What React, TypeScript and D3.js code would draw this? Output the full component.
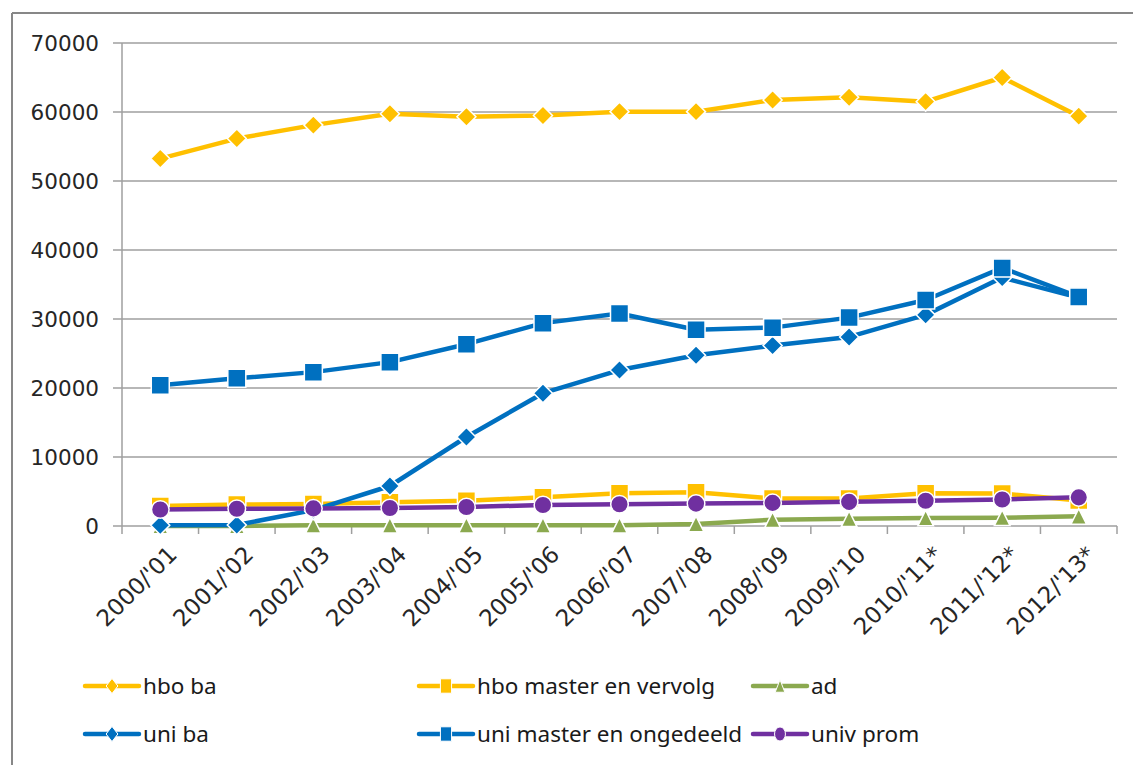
import React from "react";
import * as d3 from "d3";

const categories = ["2000/'01", "2001/'02", "2002/'03", "2003/'04", "2004/'05", "2005/'06", "2006/'07", "2007/'08", "2008/'09", "2009/'10", "2010/'11*", "2011/'12*", "2012/'13*"];

const hboBa = [53250, 56150, 58100, 59750, 59300, 59500, 60050, 60050, 61750, 62150, 61500, 65000, 59400];
const hboMaster = [2900, 3100, 3200, 3450, 3650, 4150, 4750, 4900, 4000, 4000, 4750, 4700, 3700];
const ad = [0, 0, 100, 100, 100, 100, 100, 300, 900, 1050, 1150, 1200, 1400];
const uniBa = [100, 150, 2300, 5800, 12900, 19250, 22600, 24750, 26150, 27400, 30600, 36000, 33100];
const uniMaster = [20400, 21400, 22300, 23750, 26350, 29400, 30800, 28450, 28750, 30200, 32750, 37400, 33200];
const univProm = [2400, 2500, 2550, 2600, 2750, 3050, 3150, 3250, 3350, 3500, 3650, 3850, 4150];

const yTickValues = [0, 10000, 20000, 30000, 40000, 50000, 60000, 70000];

const seriesNames = ["hbo ba", "hbo master en vervolg", "ad", "uni ba", "uni master en ongedeeld", "univ prom"];
const seriesValues = [hboBa, hboMaster, ad, uniBa, uniMaster, univProm];
const seriesColors = ["#FFC000", "#FFC000", "#8BA94F", "#0070C0", "#0070C0", "#7030A0"];
const seriesShapes = ["diamond", "square", "triangle", "diamond", "square", "circle"];

const W = 1133;
const H = 765;
const LEFT = 122;
const RIGHT = 1117;
const TOP = 43;
const BOTTOM = 526;

const x = d3.scaleBand<string>().domain(categories).range([LEFT, RIGHT]);
const y = d3.scaleLinear().domain([0, 70000]).range([BOTTOM, TOP]);
const cx = (c: string) => (x(c) as number) + x.bandwidth() / 2;

function markerPath(shape: string, sx = 1, sy = 1): string {
  if (shape === "diamond") {
    const r = 9.5;
    return `M0,${-r * sy}L${r * sx},0L0,${r * sy}L${-r * sx},0Z`;
  }
  if (shape === "square") {
    const h = 9;
    return `M${-h * sx},${-h * sy}L${h * sx},${-h * sy}L${h * sx},${h * sy}L${-h * sx},${h * sy}Z`;
  }
  if (shape === "triangle") {
    const h = 7.8;
    return `M0,${-h * sy}L${h * sx},${h * sy}L${-h * sx},${h * sy}Z`;
  }
  const r = 8.8;
  return `M${-r * sx},0A${r * sx},${r * sy} 0 1,0 ${r * sx},0A${r * sx},${r * sy} 0 1,0 ${-r * sx},0Z`;
}

const lineGen = d3
  .line<number>()
  .x((_, i) => cx(categories[i]))
  .y((v) => y(v));

const legendCols = [85, 419, 753];
const legendRows = [686, 734];

export default function App() {
  const boundaries = categories.map((c) => x(c) as number).concat([RIGHT]);
  return (
    <svg width={W} height={H} style={{ position: "absolute", left: 0, top: 0, background: "#fff" }}>
      <rect x={0} y={0} width={W} height={H} fill="#fff" />
      {/* frame */}
      <line x1={12} y1={13} x2={W} y2={13} stroke="#878787" strokeWidth={2} />
      <line x1={12} y1={13} x2={12} y2={H} stroke="#878787" strokeWidth={2} />

      {/* gridlines + y ticks */}
      {yTickValues.map((v) => (
        <g key={v}>
          <line x1={113} x2={RIGHT} y1={y(v)} y2={y(v)} stroke="#9F9F9F" strokeWidth={1.5} />
          <text
            x={99}
            y={y(v)}
            dy="0.36em"
            textAnchor="end"
            fontFamily="DejaVu Sans"
            fontSize={21.5}
            fill="#262626"
          >
            {v}
          </text>
        </g>
      ))}
      {/* y axis line */}
      <line x1={LEFT} x2={LEFT} y1={TOP} y2={BOTTOM} stroke="#9F9F9F" strokeWidth={1.5} />
      {/* x ticks */}
      {boundaries.map((b, i) => (
        <line key={i} x1={b} x2={b} y1={BOTTOM} y2={BOTTOM + 8} stroke="#9F9F9F" strokeWidth={1.5} />
      ))}
      {/* x labels */}
      {categories.map((c) => (
        <text
          key={c}
          transform={`translate(${cx(c) + 18},${BOTTOM + 30}) rotate(-45)`}
          textAnchor="end"
          fontFamily="DejaVu Sans"
          fontSize={23}
          fill="#262626"
        >
          {c}
        </text>
      ))}

      {/* series */}
      {seriesValues.map((vals, si) => (
        <g key={seriesNames[si]}>
          <path
            d={lineGen(vals) || ""}
            fill="none"
            stroke={seriesColors[si]}
            strokeWidth={4.5}
            strokeLinejoin="round"
          />
          {vals.map((v, i) => (
            <path
              key={i}
              d={markerPath(seriesShapes[si])}
              transform={`translate(${cx(categories[i])},${y(v)})`}
              fill={seriesColors[si]}
              stroke="#fff"
              strokeWidth={1.5}
            />
          ))}
        </g>
      ))}

      {/* legend */}
      {seriesNames.map((name, si) => {
        const lx = legendCols[si % 3];
        const ly = legendRows[Math.floor(si / 3)];
        return (
          <g key={name} transform={`translate(${lx},${ly})`}>
            <line x1={0} x2={54} y1={0} y2={0} stroke={seriesColors[si]} strokeWidth={4.5} strokeLinecap="round" />
            <path
              d={markerPath(seriesShapes[si], 0.62, 0.8)}
              transform="translate(27,0)"
              fill={seriesColors[si]}
              stroke="#fff"
              strokeWidth={1}
            />
            <text x={58} y={0} dy="0.35em" fontFamily="Noto Sans" fontSize={22.5} fill="#1a1a1a">
              {name}
            </text>
          </g>
        );
      })}
    </svg>
  );
}
